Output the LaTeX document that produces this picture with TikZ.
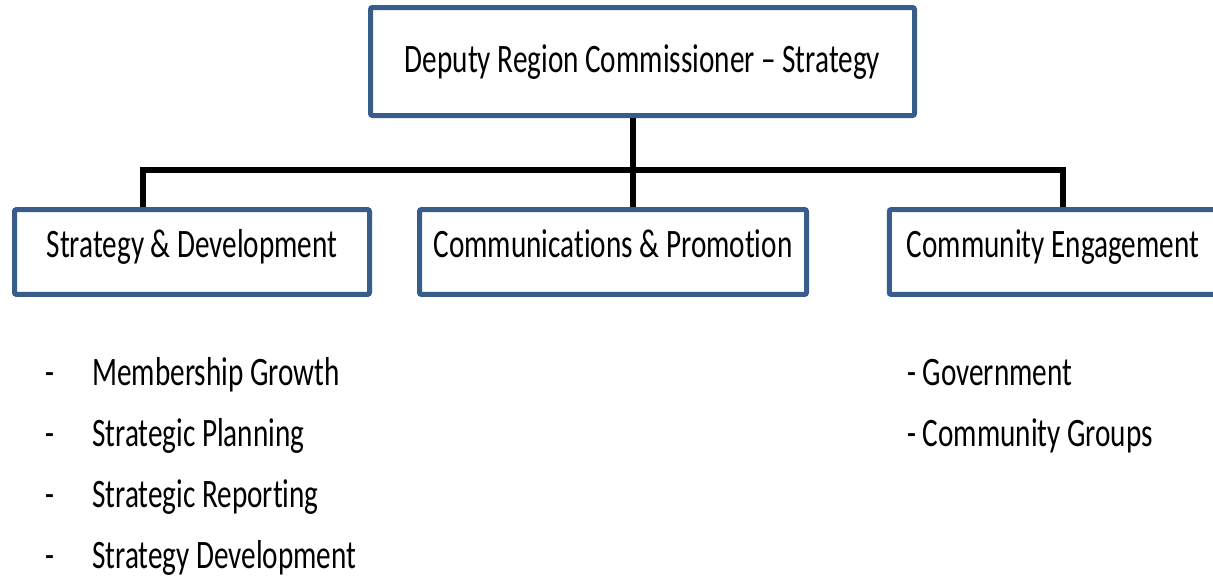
\documentclass[tikz,border=0pt]{standalone}
\usepackage{fontspec}
\setmainfont{Carlito}[FakeStretch=0.723, Ligatures=NoCommon]
\usepackage{tikz}
\definecolor{boxblue}{HTML}{385D8A}

\begin{document}
\begin{tikzpicture}[
                x=0.75pt, y=-0.75pt, % one unit per pixel of the layout
                every node/.style={font=\fontsize{30.3pt}{36pt}\selectfont, inner sep=0pt}, % Text of all nodes
                box/.style={draw=boxblue, line width=3.75pt, fill=white, rounded corners=1.5pt,
                            text height=35.6pt, text depth=28.1pt}, % Blue framed boxes
                item/.style={anchor=base west}, % Lines of the lists
                conn/.style={draw=black, line width=4.5pt} % Black connectors
                ]
                \useasboundingbox (0,0) rectangle (1213,578);
                \node[box, minimum width=408pt, text height=48.4pt, text depth=32.6pt] (top) at (642.5,61.5) {Deputy Region Commissioner -- Strategy};
                \node[box, minimum width=266.25pt] (s1) at (192,252) {Strategy \& Development};
                \node[box, minimum width=290.25pt] (s2) at (613,252) {Communications \& Promotion};
                \node[box, minimum width=245.6pt] (s3) at (1053,252) {Community Engagement};
                \coordinate (busL) at (143,170);
                \coordinate (busM) at (633,170);
                \coordinate (busR) at (1063,170);
                \draw[conn] (top.south -| busM) -- (s2.north -| busM);
                \draw[conn] (s1.north -| busL) -- (busL) -- (busR) -- (s3.north -| busR);
                % left list
                \node[item] (d1) at (45,385) {-};
                \node[item] (i1) at (92,385) {Membership Growth};
                \node[item] (d2) at (45,446) {-};
                \node[item] (i2) at (92,446) {Strategic Planning};
                \node[item] (d3) at (45,507) {-};
                \node[item] (i3) at (92,507) {Strategic Reporting};
                \node[item] (d4) at (45,568) {-};
                \node[item] (i4) at (92,568) {Strategy Development};
                % right list
                \node[item] (g1) at (907,385) {- Government};
                \node[item] (g2) at (907,446) {- Community Groups};
            \end{tikzpicture}
\end{document}
